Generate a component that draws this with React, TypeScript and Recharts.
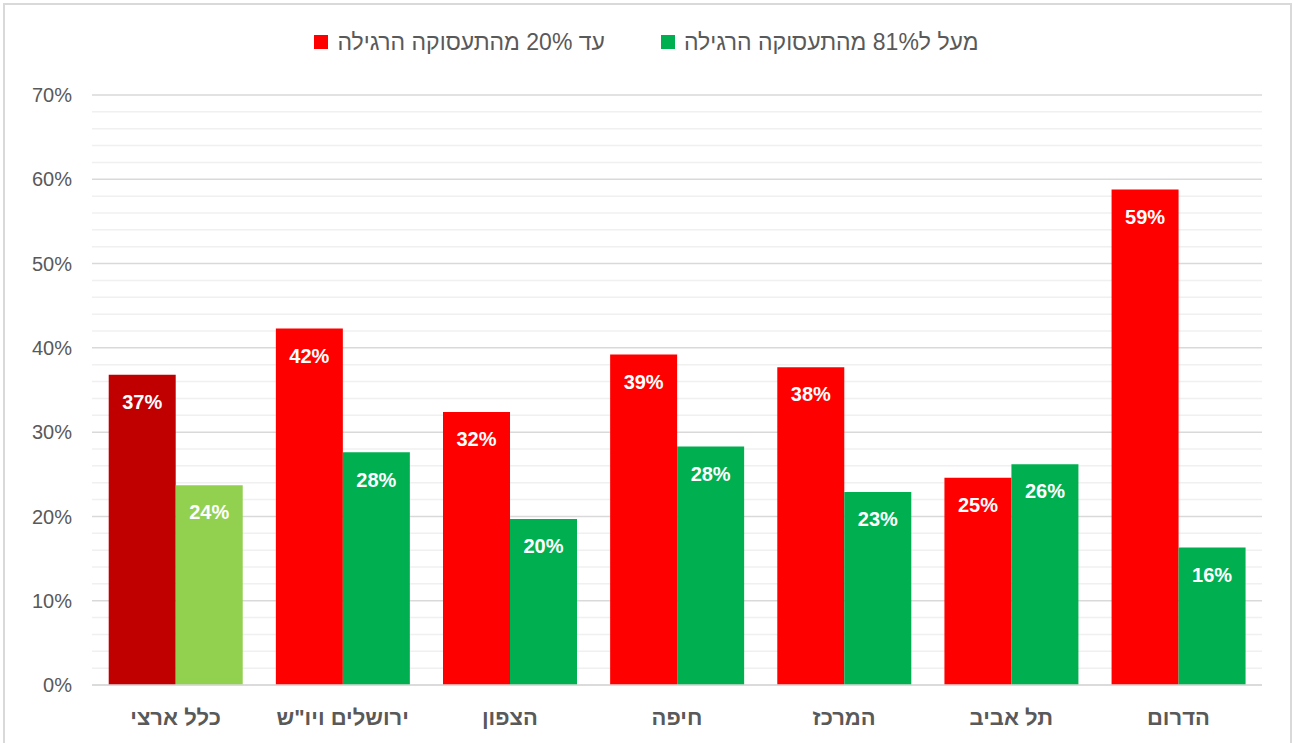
import { BarChart, Bar, XAxis, YAxis, CartesianGrid, Legend, Cell, LabelList } from 'recharts';

const regions = ['כלל ארצי', 'ירושלים ויו"ש', 'הצפון', 'חיפה', 'המרכז', 'תל אביב', 'הדרום'];
const upTo20 = [36.8, 42.3, 32.4, 39.2, 37.7, 24.6, 58.8];
const over81 = [23.7, 27.6, 19.7, 28.3, 22.9, 26.2, 16.3];
const yTicks = [0, 2, 4, 6, 8, 10, 12, 14, 16, 18, 20, 22, 24, 26, 28, 30, 32, 34, 36, 38, 40, 42, 44, 46, 48, 50, 52, 54, 56, 58, 60, 62, 64, 66, 68, 70];

const SERIES = [
  { key: 'low', name: 'עד 20% מהתעסוקה הרגילה', color: '#FF0000', national: '#C00000' },
  { key: 'high', name: 'מעל ל81% מהתעסוקה הרגילה', color: '#00B050', national: '#92D050' },
];

const data = regions.map((region, i) => ({
  region,
  low: upTo20[i],
  high: over81[i],
}));

const FONT = '"Liberation Sans", Arial, sans-serif';
const GRAY = '#595959';

function LegendBox() {
  return (
    <div
      style={{
        display: 'flex',
        justifyContent: 'center',
        gap: 56,
        height: 24,
        fontFamily: FONT,
        fontSize: 23,
        color: GRAY,
      }}
    >
      {SERIES.map((s) => (
        <div key={s.key} style={{ display: 'flex', alignItems: 'center', gap: 9 }}>
          <span style={{ width: 14, height: 14, background: s.color, display: 'inline-block' }} />
          <span>{s.name}</span>
        </div>
      ))}
    </div>
  );
}

const gridLine = (props: any) => (
  <line
    key={props.key}
    x1={props.x1}
    x2={props.x2}
    y1={props.y1}
    y2={props.y2}
    stroke={props.index % 5 === 0 ? '#D9D9D9' : '#F0F0F0'}
    strokeWidth={1.5}
  />
);

export default function App() {
  return (
    <div
      style={{
        position: 'absolute',
        left: 0,
        top: 0,
        width: 1293,
        height: 743,
        overflow: 'hidden',
        background: '#fff',
      }}
    >
      <div
        style={{
          position: 'absolute',
          left: 3,
          top: 3,
          width: 1289,
          height: 745,
          border: '2px solid #D9D9D9',
          boxSizing: 'border-box',
        }}
      />
      <BarChart
        width={1293}
        height={743}
        data={data}
        margin={{ top: 71, right: 31, bottom: 13, left: 0 }}
        barCategoryGap="10%"
        barGap={0}
      >
        <CartesianGrid vertical={false} horizontal={gridLine} />
        <XAxis
          dataKey="region"
          axisLine={{ stroke: '#D9D9D9', strokeWidth: 1.5 }}
          tickLine={false}
          height={45}
          tickMargin={18}
          tick={{ fill: GRAY, fontSize: 22, fontWeight: 'bold', fontFamily: FONT }}
        />
        <YAxis
          domain={[0, 70]}
          ticks={yTicks}
          interval={0}
          width={92}
          axisLine={false}
          tickLine={false}
          tickMargin={14}
          tickFormatter={(v: number) => (v % 10 === 0 ? `${v}%` : '')}
          tick={{ fill: GRAY, fontSize: 20, fontFamily: FONT }}
        />
        <Legend
          verticalAlign="top"
          wrapperStyle={{ top: 30, left: 0, width: 1293 }}
          content={() => <LegendBox />}
        />
        {SERIES.map((s) => (
          <Bar key={s.key} dataKey={s.key} name={s.name} fill={s.color} isAnimationActive={false}>
            {data.map((_, i) => (
              <Cell key={`c-${i}`} fill={i === 0 ? s.national : s.color} />
            ))}
            <LabelList
              dataKey={s.key}
              position="insideTop"
              offset={20}
              formatter={(v: any) => `${Math.round(Number(v))}%`}
              style={{ fill: '#fff', fontSize: 20, fontWeight: 'bold', fontFamily: FONT }}
            />
          </Bar>
        ))}
      </BarChart>
    </div>
  );
}
